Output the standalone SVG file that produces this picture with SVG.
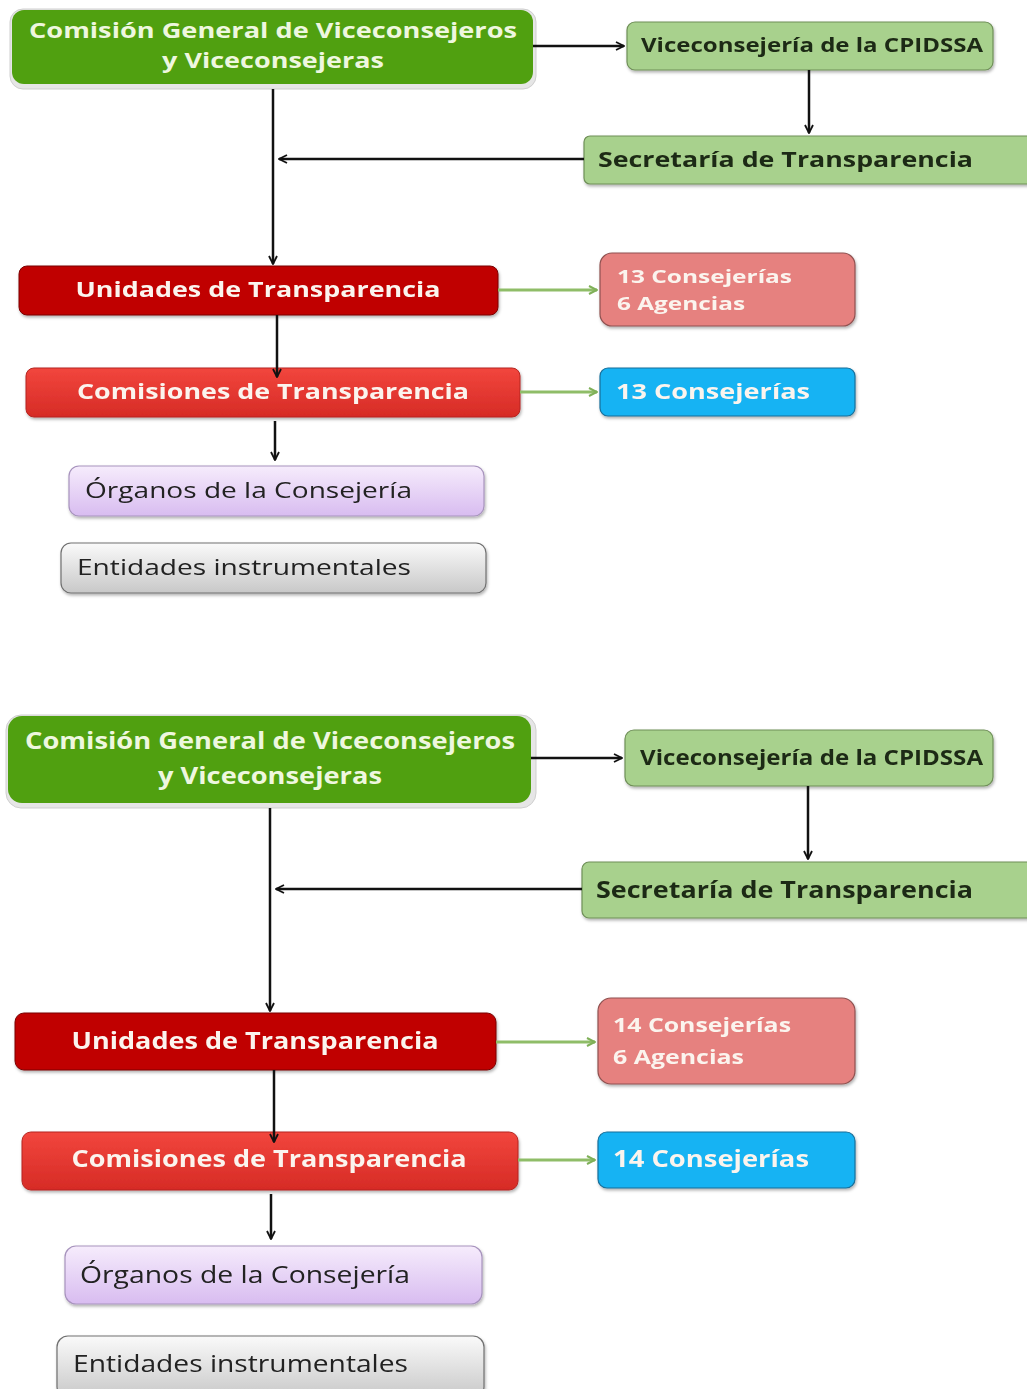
<svg xmlns="http://www.w3.org/2000/svg" width="1027" height="1389" viewBox="0 0 1027 1389">
<style>
text{font-family:"Open Sans","Noto Sans","Liberation Sans",sans-serif;}
.b{font-weight:bold;}
.w{fill:#fbf4ee;}
.gw{fill:#eef7df;}
.dk{fill:#1f2a14;}
.gr{fill:#222;}
.ln{stroke:#111;stroke-width:2.5;fill:none;}
.gl{stroke:#8fbd68;stroke-width:3;fill:none;}
</style>
<defs>
<marker id="ah" viewBox="0 0 10 10" refX="9" refY="5" markerWidth="10" markerHeight="10" markerUnits="userSpaceOnUse" orient="auto"><path d="M1,1 L9,5 L1,9" fill="none" stroke="#111" stroke-width="1.8"/></marker>
<marker id="ag" viewBox="0 0 10 10" refX="9" refY="5" markerWidth="10" markerHeight="10" markerUnits="userSpaceOnUse" orient="auto"><path d="M1,1 L9,5 L1,9" fill="none" stroke="#7fb058" stroke-width="2"/></marker>
<linearGradient id="gRed" x1="0" y1="0" x2="0" y2="1"><stop offset="0" stop-color="#f2463d"/><stop offset="1" stop-color="#d62b26"/></linearGradient>
<linearGradient id="gLav" x1="0" y1="0" x2="0" y2="1"><stop offset="0" stop-color="#f6ecfc"/><stop offset="1" stop-color="#d8bcf0"/></linearGradient>
<linearGradient id="gGray" x1="0" y1="0" x2="0" y2="1"><stop offset="0" stop-color="#fafafa"/><stop offset="1" stop-color="#c8c8c8"/></linearGradient>
<filter id="sh" x="-5%" y="-20%" width="110%" height="150%"><feDropShadow dx="1" dy="2" stdDeviation="1.5" flood-color="#000" flood-opacity="0.3"/></filter>
</defs>

<!-- ===== TOP DIAGRAM ===== -->
<g id="t-comision-general">
<rect x="10" y="9" width="526" height="80" rx="13" fill="#e6e6e6" stroke="#cfcfcf"/>
<rect x="12" y="10" width="521" height="74" rx="12" fill="#50a010"/>
<text class="b gw" x="273" y="38" font-size="21" text-anchor="middle" textLength="488" lengthAdjust="spacingAndGlyphs">Comisión General de Viceconsejeros</text>
<text class="b gw" x="273" y="68" font-size="21" text-anchor="middle" textLength="222" lengthAdjust="spacingAndGlyphs">y Viceconsejeras</text>
</g>
<g id="t-viceconsejeria" filter="url(#sh)">
<rect x="627" y="22" width="366" height="48" rx="8" fill="#a8d18d" stroke="#6f8f58" stroke-width="1.2"/>
<text class="b dk" x="641" y="52" font-size="20" textLength="342" lengthAdjust="spacingAndGlyphs">Viceconsejería de la CPIDSSA</text>
</g>
<g id="t-secretaria" filter="url(#sh)">
<rect x="584" y="136" width="460" height="48" rx="6" fill="#a8d18d" stroke="#6f8f58" stroke-width="1.2"/>
<text class="b dk" x="598" y="167" font-size="21" textLength="375" lengthAdjust="spacingAndGlyphs">Secretaría de Transparencia</text>
</g>
<g id="t-unidades" filter="url(#sh)">
<rect x="19" y="266" width="479" height="49" rx="8" fill="#c00000" stroke="#7a0000" stroke-width="1"/>
<text class="b w" x="258" y="297" font-size="21" text-anchor="middle" textLength="365" lengthAdjust="spacingAndGlyphs">Unidades de Transparencia</text>
</g>
<g id="t-consejerias-agencias" filter="url(#sh)">
<rect x="600" y="253" width="255" height="73" rx="12" fill="#e6817f" stroke="#8f5150" stroke-width="1.2"/>
<text class="b w" x="617" y="283" font-size="18" textLength="175" lengthAdjust="spacingAndGlyphs">13 Consejerías</text>
<text class="b w" x="617" y="310" font-size="18" textLength="128" lengthAdjust="spacingAndGlyphs">6 Agencias</text>
</g>
<g id="t-comisiones" filter="url(#sh)">
<rect x="26" y="368" width="494" height="49" rx="8" fill="url(#gRed)" stroke="#b52520" stroke-width="1"/>
<text class="b w" x="273" y="399" font-size="21" text-anchor="middle" textLength="392" lengthAdjust="spacingAndGlyphs">Comisiones de Transparencia</text>
</g>
<g id="t-consejerias" filter="url(#sh)">
<rect x="600" y="368" width="255" height="48" rx="8" fill="#12b3f3" stroke="#1a6f9a" stroke-width="1.2"/>
<text class="b w" x="616" y="399" font-size="21" textLength="194" lengthAdjust="spacingAndGlyphs">13 Consejerías</text>
</g>
<g id="t-organos" filter="url(#sh)">
<rect x="69" y="466" width="415" height="50" rx="10" fill="url(#gLav)" stroke="#a793bd" stroke-width="1.2"/>
<text class="gr" x="85" y="498" font-size="22" textLength="327" lengthAdjust="spacingAndGlyphs">Órganos de la Consejería</text>
</g>
<g id="t-entidades" filter="url(#sh)">
<rect x="61" y="543" width="425" height="50" rx="10" fill="url(#gGray)" stroke="#707070" stroke-width="1.2"/>
<text class="gr" x="77" y="575" font-size="22" textLength="334" lengthAdjust="spacingAndGlyphs">Entidades instrumentales</text>
</g>

<!-- ===== BOTTOM DIAGRAM ===== -->
<g id="b-comision-general">
<rect x="6" y="715" width="530" height="93" rx="15" fill="#e6e6e6" stroke="#cfcfcf"/>
<rect x="8" y="716" width="523" height="87" rx="14" fill="#50a010"/>
<text class="b gw" x="270" y="749" font-size="23" text-anchor="middle" textLength="490" lengthAdjust="spacingAndGlyphs">Comisión General de Viceconsejeros</text>
<text class="b gw" x="270" y="784" font-size="23" text-anchor="middle" textLength="224" lengthAdjust="spacingAndGlyphs">y Viceconsejeras</text>
</g>
<g id="b-viceconsejeria" filter="url(#sh)">
<rect x="625" y="730" width="368" height="56" rx="9" fill="#a8d18d" stroke="#6f8f58" stroke-width="1.2"/>
<text class="b dk" x="640" y="765" font-size="22" textLength="343" lengthAdjust="spacingAndGlyphs">Viceconsejería de la CPIDSSA</text>
</g>
<g id="b-secretaria" filter="url(#sh)">
<rect x="582" y="862" width="462" height="56" rx="7" fill="#a8d18d" stroke="#6f8f58" stroke-width="1.2"/>
<text class="b dk" x="596" y="898" font-size="23" textLength="377" lengthAdjust="spacingAndGlyphs">Secretaría de Transparencia</text>
</g>
<g id="b-unidades" filter="url(#sh)">
<rect x="15" y="1013" width="481" height="57" rx="9" fill="#c00000" stroke="#7a0000" stroke-width="1"/>
<text class="b w" x="255" y="1049" font-size="23" text-anchor="middle" textLength="367" lengthAdjust="spacingAndGlyphs">Unidades de Transparencia</text>
</g>
<g id="b-consejerias-agencias" filter="url(#sh)">
<rect x="598" y="998" width="257" height="86" rx="13" fill="#e6817f" stroke="#8f5150" stroke-width="1.2"/>
<text class="b w" x="613" y="1032" font-size="20" textLength="178" lengthAdjust="spacingAndGlyphs">14 Consejerías</text>
<text class="b w" x="613" y="1064" font-size="20" textLength="131" lengthAdjust="spacingAndGlyphs">6 Agencias</text>
</g>
<g id="b-comisiones" filter="url(#sh)">
<rect x="22" y="1132" width="496" height="58" rx="9" fill="url(#gRed)" stroke="#b52520" stroke-width="1"/>
<text class="b w" x="269" y="1167" font-size="23" text-anchor="middle" textLength="395" lengthAdjust="spacingAndGlyphs">Comisiones de Transparencia</text>
</g>
<g id="b-consejerias" filter="url(#sh)">
<rect x="598" y="1132" width="257" height="56" rx="9" fill="#12b3f3" stroke="#1a6f9a" stroke-width="1.2"/>
<text class="b w" x="613" y="1167" font-size="23" textLength="196" lengthAdjust="spacingAndGlyphs">14 Consejerías</text>
</g>
<g id="b-organos" filter="url(#sh)">
<rect x="65" y="1246" width="417" height="58" rx="11" fill="url(#gLav)" stroke="#a793bd" stroke-width="1.2"/>
<text class="gr" x="80" y="1283" font-size="24" textLength="330" lengthAdjust="spacingAndGlyphs">Órganos de la Consejería</text>
</g>
<g id="b-entidades" filter="url(#sh)">
<rect x="57" y="1336" width="427" height="62" rx="11" fill="url(#gGray)" stroke="#707070" stroke-width="1.2"/>
<text class="gr" x="73" y="1372" font-size="24" textLength="335" lengthAdjust="spacingAndGlyphs">Entidades instrumentales</text>
</g>

<g id="connectors">
<!-- top diagram -->
<path class="ln" d="M533,46 H624" marker-end="url(#ah)"/>
<path class="ln" d="M809,70 V133" marker-end="url(#ah)"/>
<path class="ln" d="M584,159 H279" marker-end="url(#ah)"/>
<path class="ln" d="M273,89 V264" marker-end="url(#ah)"/>
<path class="ln" d="M277,315 V377" marker-end="url(#ah)"/>
<path class="ln" d="M275,421 V460" marker-end="url(#ah)"/>
<path class="gl" d="M498,290 H597" marker-end="url(#ag)"/>
<path class="gl" d="M520,392 H597" marker-end="url(#ag)"/>
<!-- bottom diagram -->
<path class="ln" d="M531,758 H622" marker-end="url(#ah)"/>
<path class="ln" d="M808,786 V859" marker-end="url(#ah)"/>
<path class="ln" d="M582,889 H276" marker-end="url(#ah)"/>
<path class="ln" d="M270,808 V1011" marker-end="url(#ah)"/>
<path class="ln" d="M274,1070 V1142" marker-end="url(#ah)"/>
<path class="ln" d="M271,1194 V1239" marker-end="url(#ah)"/>
<path class="gl" d="M496,1042 H595" marker-end="url(#ag)"/>
<path class="gl" d="M518,1160 H595" marker-end="url(#ag)"/>
</g>
</svg>
